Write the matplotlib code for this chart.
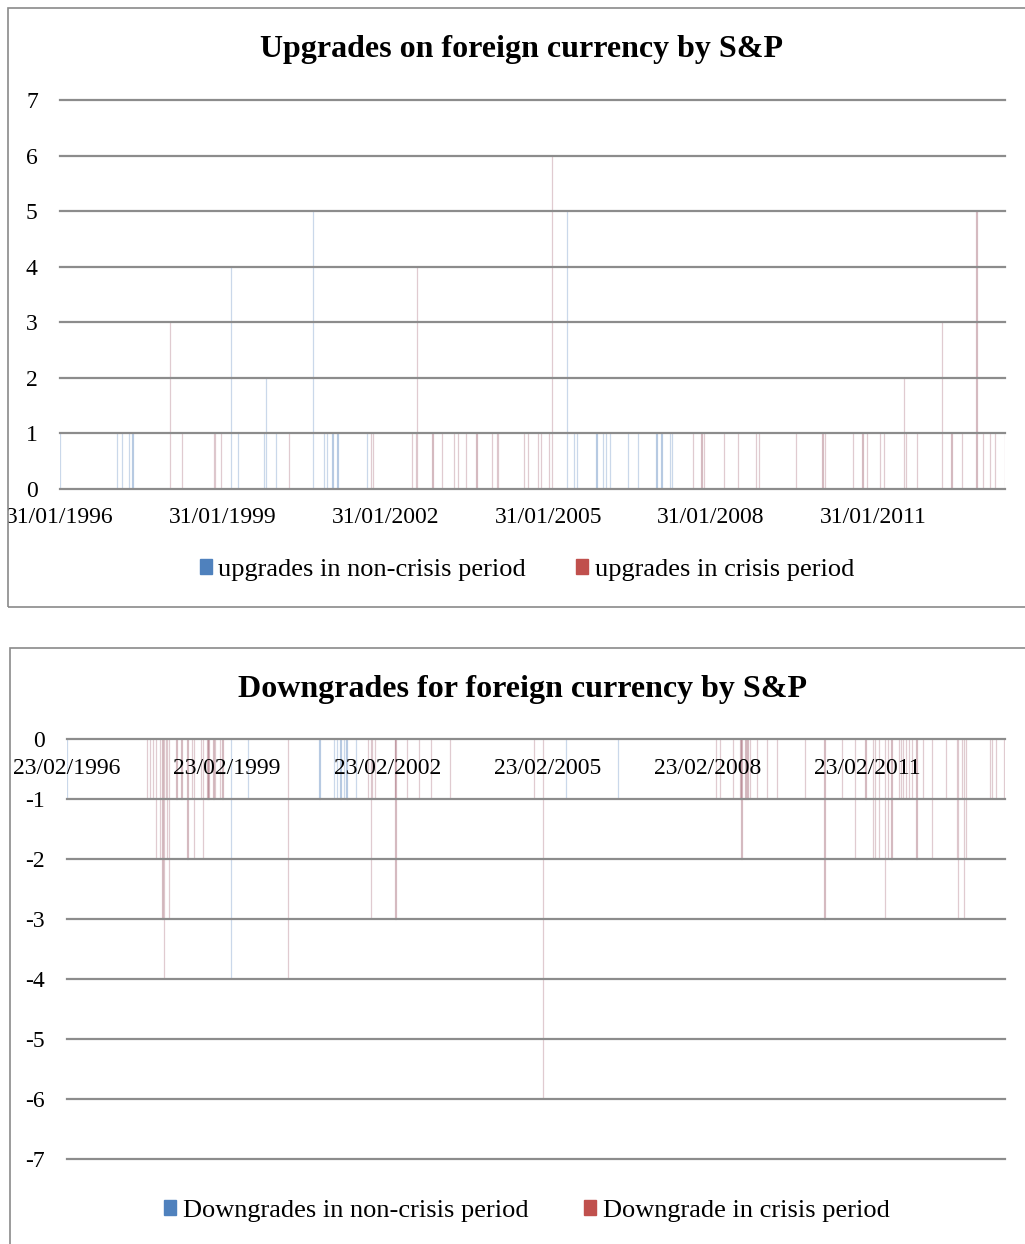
import matplotlib
matplotlib.use("Agg")
import matplotlib.pyplot as plt
import pandas as pd
from matplotlib.patches import Rectangle, Patch

plt.rcParams['font.family'] = ['Liberation Serif', 'DejaVu Serif']
plt.rcParams['axes.unicode_minus'] = False

# upgrades (S&P, foreign currency)
up_non_dates = ["1996-02-01", "1997-02-17", "1997-03-25", "1997-05-10", "1997-06-02",
                "1999-03-25", "1999-05-15", "1999-11-06", "1999-11-20", "2000-01-26",
                "2000-10-02", "2000-12-15", "2000-12-31", "2001-02-08", "2001-03-14",
                "2001-10-01", "2005-06-04", "2005-07-23", "2005-08-10", "2005-12-22",
                "2006-02-01", "2006-02-25", "2006-03-22", "2006-07-23", "2006-09-28",
                "2007-01-30", "2007-03-05", "2007-04-30", "2007-05-15"]
up_non_vals = [1, 1, 1, 1, 1,
               4, 1, 1, 2, 1,
               5, 1, 1, 1, 1,
               1, 5, 1, 1, 1,
               1, 1, 1, 1, 1,
               1, 1, 1, 1]

up_cri_dates = ["1998-02-12", "1998-05-04", "1998-12-01", "1998-12-08", "1999-01-21",
                "2000-04-23", "2001-10-25", "2001-11-09", "2002-07-26", "2002-08-22",
                "2002-09-02", "2002-12-14", "2003-02-17", "2003-05-07", "2003-06-05",
                "2003-07-28", "2003-10-06", "2004-01-16", "2004-02-20", "2004-03-01",
                "2004-08-20", "2004-09-18", "2004-11-23", "2004-12-13", "2005-02-03",
                "2005-02-27", "2007-10-04", "2007-11-29", "2007-12-17", "2008-04-28",
                "2008-08-03", "2008-11-28", "2008-12-20", "2009-08-27", "2010-02-21",
                "2010-03-11", "2010-09-13", "2010-11-17", "2010-12-18", "2011-03-17",
                "2011-04-11", "2011-08-26", "2011-09-06", "2011-11-19", "2012-05-05",
                "2012-07-09", "2012-09-18", "2012-12-24", "2013-02-07", "2013-03-26",
                "2013-04-29", "2013-07-03"]
up_cri_vals = [3, 1, 1, 1, 1,
               1, 1, 1, 1, 1,
               4, 1, 1, 1, 1,
               1, 1, 1, 1, 1,
               1, 1, 1, 1, 1,
               6, 1, 1, 1, 1,
               1, 1, 1, 1, 1,
               1, 1, 1, 1, 1,
               1, 2, 1, 1, 3,
               1, 1, 5, 1, 1,
               1, 1]

# downgrades
down_non_dates = ["1996-02-23", "1999-03-24", "1999-07-18", "2000-11-16", "2001-02-25",
                  "2001-03-16", "2001-04-08", "2001-04-30", "2001-05-19", "2001-07-24",
                  "2005-06-28", "2006-06-19"]
down_non_vals = [-1, -4, -1, -1, -1,
                 -1, -1, -1, -1, -1,
                 -1, -1]

down_cri_dates = ["1997-08-26", "1997-09-11", "1997-10-06", "1997-10-22", "1997-11-21",
                  "1997-12-07", "1997-12-20", "1997-12-30", "1998-01-06", "1998-01-22",
                  "1998-03-13", "1998-04-16", "1998-05-27", "1998-06-26", "1998-07-11",
                  "1998-08-26", "1998-09-13", "1998-10-11", "1998-10-18", "1998-11-21",
                  "1998-12-02", "1999-01-06", "1999-01-22", "2000-04-16", "2001-10-16",
                  "2001-11-03", "2001-11-10", "2001-11-28", "2002-04-16", "2002-04-20",
                  "2002-07-08", "2002-09-25", "2002-12-16", "2003-04-26", "2004-11-21",
                  "2005-01-22", "2008-04-18", "2008-05-16", "2008-08-15", "2008-10-05",
                  "2008-10-12", "2008-11-08", "2008-11-22", "2008-12-08", "2009-01-24",
                  "2009-04-05", "2009-06-12", "2009-12-20", "2010-05-03", "2010-08-31",
                  "2010-11-30", "2011-02-08", "2011-03-31", "2011-04-12", "2011-05-11",
                  "2011-06-19", "2011-07-12", "2011-08-04", "2011-09-25", "2011-10-07",
                  "2011-10-22", "2011-11-10", "2011-11-30", "2011-12-25", "2012-01-22",
                  "2012-03-08", "2012-05-05", "2012-08-11", "2012-10-23", "2012-10-30",
                  "2012-11-27", "2012-12-14", "2012-12-26", "2013-06-10", "2013-06-22",
                  "2013-07-19", "2013-09-14"]
down_cri_vals = [-1, -1, -1, -2, -2,
                 -3, -4, -1, -2, -3,
                 -1, -1, -2, -1, -2,
                 -1, -2, -1, -1, -1,
                 -1, -1, -1, -4, -1,
                 -3, -1, -1, -1, -3,
                 -1, -1, -1, -1, -1,
                 -6, -1, -1, -1, -1,
                 -2, -1, -1, -1, -1,
                 -1, -1, -1, -3, -1,
                 -2, -1, -2, -2, -2,
                 -3, -2, -2, -1, -1,
                 -1, -1, -1, -1, -2,
                 -1, -2, -1, -2, -3,
                 -1, -3, -2, -1, -1,
                 -1, -1]

up_ticks = ["31/01/1996", "31/01/1999", "31/01/2002", "31/01/2005", "31/01/2008", "31/01/2011"]
down_ticks = ["23/02/1996", "23/02/1999", "23/02/2002", "23/02/2005", "23/02/2008", "23/02/2011"]
up_xlim = ("1996-01-31", "2013-07-04")
down_xlim = ("1996-02-23", "2013-09-19")

BLUE = "#4F81BD"
RED = "#C0504D"
BAR_BLUE = "#5a86bf"
BAR_RED = "#a0606f"
GRID = "#8c8c8c"
FS = 17
LFS = 19

fig = plt.figure(figsize=(10.25, 12.44), dpi=100)

# chart borders
fig.add_artist(Rectangle((8 / 1025, 1 - 607 / 1244), 1.2, 599 / 1244, transform=fig.transFigure,
                         fill=False, edgecolor="#8a8a8a", linewidth=1.2))
fig.add_artist(Rectangle((10 / 1025, -0.1), 1.2, 0.1 + (1244 - 648) / 1244, transform=fig.transFigure,
                         fill=False, edgecolor="#8a8a8a", linewidth=1.2))


def draw_bars(ax, non_d, non_v, cri_d, cri_v):
    ax.bar(pd.to_datetime(non_d), non_v, width=1.0, color=BAR_BLUE, edgecolor=BAR_BLUE,
           linewidth=0.9, alpha=0.32, zorder=1)
    ax.bar(pd.to_datetime(cri_d), cri_v, width=1.0, color=BAR_RED, edgecolor=BAR_RED,
           linewidth=0.9, alpha=0.32, zorder=1)
    for s in ax.spines.values():
        s.set_visible(False)
    ax.grid(axis='y', color=GRID, linewidth=1.6, zorder=2)
    ax.grid(axis='x', visible=False)
    ax.tick_params(length=0, labelsize=FS)
    ax.tick_params(axis='y', pad=16)


# upgrades
ax1 = fig.add_axes([60 / 1025, 1 - 489 / 1244, 945 / 1025, 389 / 1244])
draw_bars(ax1, up_non_dates, up_non_vals, up_cri_dates, up_cri_vals)
ax1.set_ylim(0, 7)
ax1.set_yticks(range(0, 8))
ax1.set_xlim(pd.to_datetime(up_xlim[0]), pd.to_datetime(up_xlim[1]))
ax1.set_xticks(pd.to_datetime(up_ticks, dayfirst=True))
ax1.set_xticklabels(up_ticks)
ax1.tick_params(axis='x', pad=13)
clip1 = Rectangle((8 / 1025, 0), 1, 1, transform=fig.transFigure, visible=False)
fig.add_artist(clip1)
ax1.get_xticklabels()[0].set_clip_path(clip1)
for gl in ax1.yaxis.get_gridlines():
    gl.set_clip_on(False)

fig.text(522 / 1025, 1 - 49 / 1244, "Upgrades on foreign currency by S&P", ha='center', va='center',
         fontsize=23, fontweight='bold')
fig.legend(handles=[Patch(color=BLUE, label="upgrades in non-crisis period"),
                    Patch(color=RED, label="upgrades in crisis period")],
           loc='center', bbox_to_anchor=(527 / 1025, 1 - 570 / 1244), ncol=2, frameon=False,
           fontsize=LFS, handlelength=0.46, handleheight=0.46, handletextpad=0.25, columnspacing=1.9)

# downgrades
ax2 = fig.add_axes([67 / 1025, 1 - 1159 / 1244, 938 / 1025, 420 / 1244])
draw_bars(ax2, down_non_dates, down_non_vals, down_cri_dates, down_cri_vals)
ax2.set_ylim(-7, 0)
ax2.set_yticks(range(-7, 1))
ax2.set_xlim(pd.to_datetime(down_xlim[0]), pd.to_datetime(down_xlim[1]))
ax2.xaxis.tick_top()
ax2.set_xticks(pd.to_datetime(down_ticks, dayfirst=True))
ax2.set_xticklabels(down_ticks)
ax2.tick_params(axis='x', labeltop=True, labelbottom=False, pad=-29)
for gl in ax2.yaxis.get_gridlines():
    gl.set_clip_on(False)

fig.text(522 / 1025, 1 - 689 / 1244, "Downgrades for foreign currency by S&P", ha='center', va='center',
         fontsize=23, fontweight='bold')
fig.legend(handles=[Patch(color=BLUE, label="Downgrades in non-crisis period"),
                    Patch(color=RED, label="Downgrade in crisis period")],
           loc='center', bbox_to_anchor=(527 / 1025, 1 - 1211 / 1244), ncol=2, frameon=False,
           fontsize=LFS, handlelength=0.46, handleheight=0.46, handletextpad=0.25, columnspacing=2.1)

fig.savefig("out.png", dpi=100)
